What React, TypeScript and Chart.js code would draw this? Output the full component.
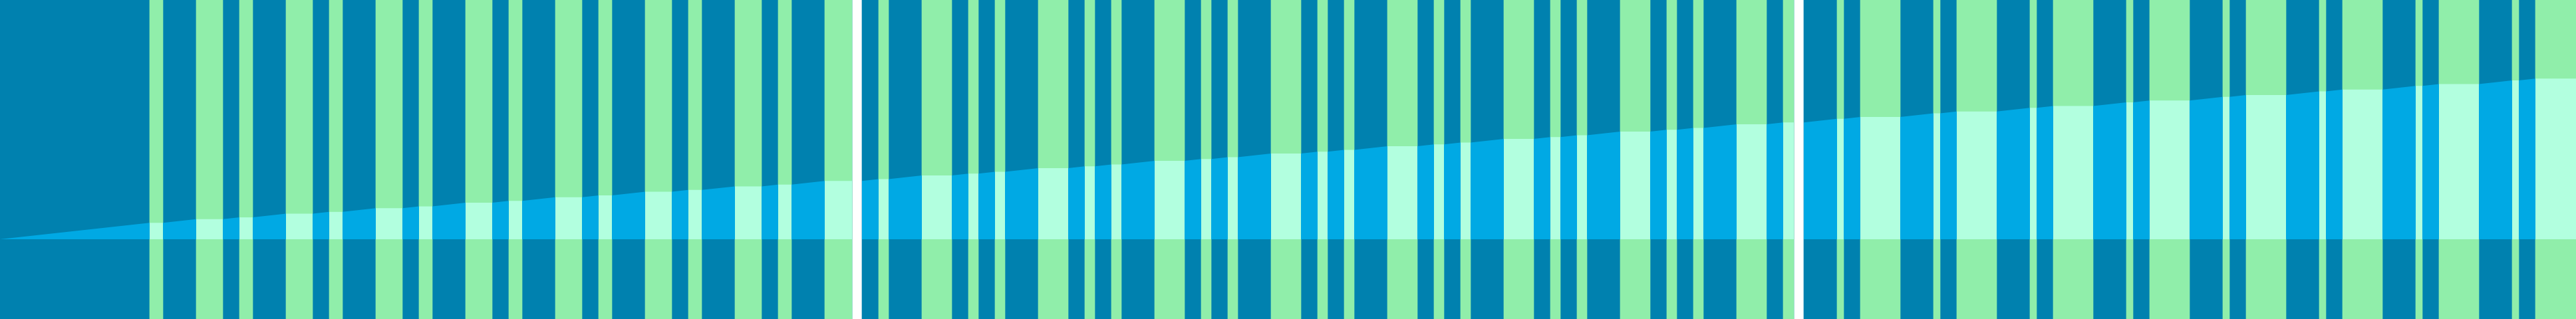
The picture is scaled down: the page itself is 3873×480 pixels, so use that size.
import React, { useEffect, useRef } from 'react';
import { Chart, registerables } from 'chart.js';

Chart.register(...registerables);

// ---- data (time axis units) ----
const axisRange = [0, 3873];
const levelRange = [-1092, 3277];

// observed sessions (dark state); white = no data between sessions
const sessionRanges: [number, number][] = [
  [0, 1281],
  [1296, 2697],
  [2712, 3873],
];
const sessionStartLevels = [0, 800, 1600];

// green state periods
const greenRanges: [number, number][] = [
  [225, 245], [295, 335], [360, 380], [430, 470], [495, 515], [565, 605], [630, 650], [700, 740],
  [765, 785], [835, 875], [900, 920], [970, 1010], [1035, 1055], [1105, 1145], [1170, 1190], [1240, 1281],
  [1321, 1336], [1386, 1431], [1456, 1471], [1496, 1511], [1561, 1606], [1631, 1646], [1671, 1686], [1736, 1781],
  [1806, 1821], [1846, 1861], [1911, 1956], [1981, 1996], [2021, 2036], [2086, 2131], [2156, 2171], [2196, 2211],
  [2261, 2306], [2331, 2346], [2371, 2386], [2436, 2481], [2506, 2521], [2546, 2561], [2611, 2656], [2681, 2697],
  [2762, 2772], [2797, 2857], [2907, 2917], [2942, 3002], [3052, 3062], [3087, 3147], [3197, 3207], [3232, 3292],
  [3342, 3352], [3377, 3437], [3487, 3497], [3522, 3582], [3632, 3642], [3667, 3727], [3777, 3787], [3812, 3873],
];

// running total level held during each green period
const greenLevels = [
  225, 275, 300, 350, 375, 425, 450, 500, 525, 575, 600, 650, 675, 725, 750, 800,
  825, 875, 900, 925, 975, 1000, 1025, 1075, 1100, 1125, 1175, 1200, 1225, 1275, 1300, 1325,
  1375, 1400, 1425, 1475, 1500, 1525, 1575, 1600,
  1650, 1675, 1725, 1750, 1800, 1825, 1875, 1900, 1950, 1975, 2025, 2050, 2100, 2125, 2175, 2200,
];

// ---- styles ----
const DARK = '#0081AF';
const GREEN = '#90EEAA';
const BRIGHT = '#00A9E4';
const MINT = '#B2FFDF';

const CAT = 'timeline';

function buildBandPoints() {
  const pts: { x: number; y: number | null }[] = [];
  sessionRanges.forEach(([s, e], si) => {
    if (si > 0) {
      const prevEnd = sessionRanges[si - 1][1];
      pts.push({ x: (prevEnd + s) / 2, y: null });
    }
    pts.push({ x: s, y: sessionStartLevels[si] });
    greenRanges.forEach(([a, b], gi) => {
      if (a >= s && b <= e) {
        pts.push({ x: a, y: greenLevels[gi] });
        pts.push({ x: b, y: greenLevels[gi] });
      }
    });
  });
  return pts;
}

export default function App() {
  const ref = useRef<HTMLCanvasElement | null>(null);

  useEffect(() => {
    if (!ref.current) return;
    const inGreen = (xm: number) => greenRanges.some(([a, b]) => xm > a && xm < b);
    const chart = new Chart(ref.current, {
      type: 'bar',
      data: {
        datasets: [
          {
            type: 'line',
            label: 'running total',
            data: buildBandPoints() as any,
            xAxisID: 'x',
            yAxisID: 'y',
            fill: 'origin',
            backgroundColor: BRIGHT,
            borderWidth: 0,
            pointRadius: 0,
            tension: 0,
            order: 1,
            segment: {
              backgroundColor: (ctx: any) =>
                inGreen((ctx.p0.parsed.x + ctx.p1.parsed.x) / 2) ? MINT : BRIGHT,
            },
          } as any,
          {
            type: 'bar',
            label: 'green',
            indexAxis: 'y',
            data: greenRanges.map((r) => ({ x: r, y: CAT })) as any,
            xAxisID: 'x',
            yAxisID: 'yb',
            backgroundColor: GREEN,
            borderWidth: 0,
            grouped: false,
            categoryPercentage: 1,
            barPercentage: 1,
            order: 2,
          } as any,
          {
            type: 'bar',
            label: 'session',
            indexAxis: 'y',
            data: sessionRanges.map((r) => ({ x: r, y: CAT })) as any,
            xAxisID: 'x',
            yAxisID: 'yb',
            backgroundColor: DARK,
            borderWidth: 0,
            grouped: false,
            categoryPercentage: 1,
            barPercentage: 1,
            order: 3,
          } as any,
        ],
      },
      options: {
        animation: false,
        responsive: true,
        maintainAspectRatio: false,
        events: [],
        layout: { padding: 0 },
        plugins: { legend: { display: false }, tooltip: { enabled: false }, title: { display: false } },
        scales: {
          x: { type: 'linear', min: axisRange[0], max: axisRange[1], display: false, offset: false },
          y: { type: 'linear', min: levelRange[0], max: levelRange[1], display: false, offset: false },
          yb: { type: 'category', labels: [CAT], display: false, offset: true },
        },
      } as any,
    });
    return () => chart.destroy();
  }, []);

  return (
    <div style={{ position: 'fixed', left: 0, top: 0, width: '100vw', height: '100vh' }}>
      <canvas ref={ref} />
    </div>
  );
}
